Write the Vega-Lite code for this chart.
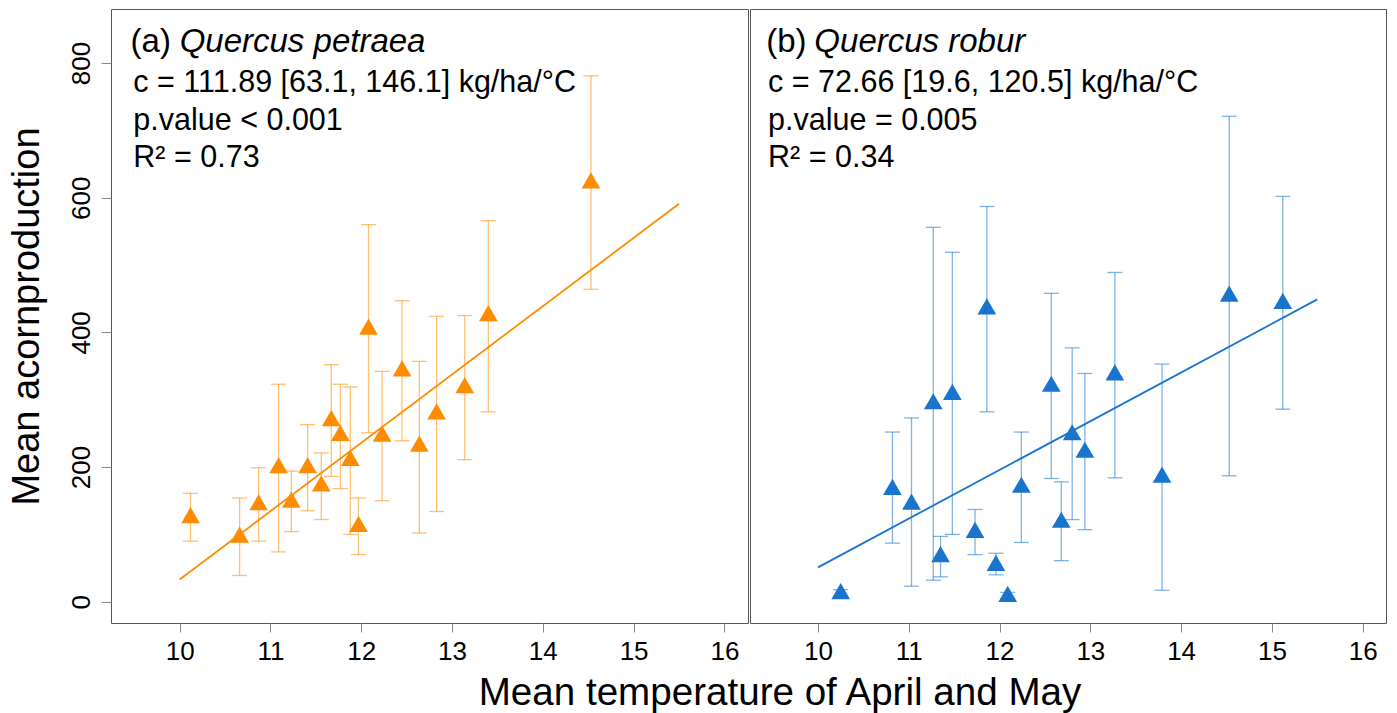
{
  "$schema": "https://vega.github.io/schema/vega-lite/v6.json",
  "background": "white",
  "padding": {"left": 7, "top": 8, "right": 12, "bottom": 4},
  "title": {"text": "Mean temperature of April and May", "orient": "bottom", "anchor": "middle", "fontSize": 38.6, "font": "Liberation Sans", "fontWeight": "normal", "color": "black", "dx": 83, "offset": 10},
  "spacing": 0,
  "datasets": {
    "petraea": [
      {"temp": 10.12, "acorn": 125, "lower": 90, "upper": 161},
      {"temp": 10.66, "acorn": 96, "lower": 39, "upper": 154},
      {"temp": 10.87, "acorn": 144, "lower": 90, "upper": 199},
      {"temp": 11.09, "acorn": 199, "lower": 74, "upper": 323},
      {"temp": 11.23, "acorn": 148, "lower": 104, "upper": 194},
      {"temp": 11.41, "acorn": 199, "lower": 135, "upper": 263},
      {"temp": 11.56, "acorn": 172, "lower": 122, "upper": 221},
      {"temp": 11.67, "acorn": 269, "lower": 186, "upper": 352},
      {"temp": 11.77, "acorn": 247, "lower": 168, "upper": 323},
      {"temp": 11.88, "acorn": 210, "lower": 100, "upper": 319},
      {"temp": 11.97, "acorn": 112, "lower": 70, "upper": 154},
      {"temp": 12.08, "acorn": 405, "lower": 251, "upper": 560},
      {"temp": 12.23, "acorn": 246, "lower": 150, "upper": 342},
      {"temp": 12.45, "acorn": 343, "lower": 239, "upper": 447},
      {"temp": 12.64, "acorn": 231, "lower": 102, "upper": 357},
      {"temp": 12.83, "acorn": 279, "lower": 134, "upper": 424},
      {"temp": 13.14, "acorn": 318, "lower": 211, "upper": 425},
      {"temp": 13.40, "acorn": 425, "lower": 282, "upper": 566},
      {"temp": 14.53, "acorn": 622, "lower": 464, "upper": 781}
    ],
    "robur": [
      {"temp": 10.25, "acorn": 12, "lower": 8, "upper": 18},
      {"temp": 10.82, "acorn": 167, "lower": 87, "upper": 252},
      {"temp": 11.03, "acorn": 145, "lower": 23, "upper": 273},
      {"temp": 11.27, "acorn": 294, "lower": 32, "upper": 556},
      {"temp": 11.35, "acorn": 67, "lower": 37, "upper": 97},
      {"temp": 11.48, "acorn": 308, "lower": 100, "upper": 519},
      {"temp": 11.73, "acorn": 103, "lower": 70, "upper": 137},
      {"temp": 11.86, "acorn": 435, "lower": 282, "upper": 587},
      {"temp": 11.96, "acorn": 54, "lower": 40, "upper": 72},
      {"temp": 12.09, "acorn": 8, "lower": 5, "upper": 14},
      {"temp": 12.24, "acorn": 170, "lower": 88, "upper": 252},
      {"temp": 12.57, "acorn": 320, "lower": 183, "upper": 458},
      {"temp": 12.68, "acorn": 118, "lower": 61, "upper": 178},
      {"temp": 12.80, "acorn": 248, "lower": 122, "upper": 377},
      {"temp": 12.94, "acorn": 222, "lower": 107, "upper": 339},
      {"temp": 13.27, "acorn": 337, "lower": 184, "upper": 489},
      {"temp": 13.79, "acorn": 185, "lower": 17, "upper": 353},
      {"temp": 14.53, "acorn": 454, "lower": 187, "upper": 721},
      {"temp": 15.12, "acorn": 443, "lower": 286, "upper": 602}
    ],
    "fitA": [{"temp": 10.0, "fit": 33}, {"temp": 15.5, "fit": 591}],
    "fitB": [{"temp": 10.0, "fit": 51}, {"temp": 15.5, "fit": 449}]
  },
  "hconcat": [
    {
      "width": 637,
      "height": 614,
      "layer": [
        {
          "data": {"name": "petraea"},
          "mark": {"type": "rule", "color": "#FF8C00", "opacity": 0.55, "strokeWidth": 1.3},
          "encoding": {
            "x": {"field": "temp", "type": "quantitative", "scale": {"domain": [9.244, 16.26], "nice": false, "zero": false},
              "axis": {"values": [10, 11, 12, 13, 14, 15, 16], "format": "d", "title": null, "domain": false, "grid": false, "tickSize": 9, "tickColor": "#888888", "labelFontSize": 26, "labelFont": "Liberation Sans", "labelColor": "black", "labelPadding": 6, "labelFlush": false}},
            "y": {"field": "lower", "type": "quantitative", "scale": {"domain": [-31.6, 880.3], "nice": false, "zero": false},
              "axis": {"values": [0, 200, 400, 600, 800], "format": "d", "title": "Mean acornproduction", "domain": false, "grid": false, "tickSize": 10, "tickColor": "#888888", "labelFontSize": 26, "labelFont": "Liberation Sans", "labelColor": "black", "labelAngle": -90, "labelAlign": "center", "labelBaseline": "alphabetic", "labelPadding": 12, "labelFlush": false, "titleFontSize": 38, "titleFont": "Liberation Sans", "titleFontWeight": "normal", "titleColor": "black", "titlePadding": 22}},
            "y2": {"field": "upper"}
          }
        },
        {
          "data": {"name": "petraea"},
          "mark": {"type": "tick", "orient": "horizontal", "size": 15, "thickness": 1.3, "color": "#FF8C00", "opacity": 0.55},
          "encoding": {"x": {"field": "temp", "type": "quantitative"}, "y": {"field": "lower", "type": "quantitative"}}
        },
        {
          "data": {"name": "petraea"},
          "mark": {"type": "tick", "orient": "horizontal", "size": 15, "thickness": 1.3, "color": "#FF8C00", "opacity": 0.55},
          "encoding": {"x": {"field": "temp", "type": "quantitative"}, "y": {"field": "upper", "type": "quantitative"}}
        },
        {
          "data": {"name": "fitA"},
          "mark": {"type": "line", "color": "#FF8C00", "strokeWidth": 1.8},
          "encoding": {"x": {"field": "temp", "type": "quantitative"}, "y": {"field": "fit", "type": "quantitative"}}
        },
        {
          "data": {"name": "petraea"},
          "mark": {"type": "point", "shape": "triangle-up", "filled": true, "size": 350, "color": "#FF8C00", "opacity": 1, "yOffset": -2.5},
          "encoding": {"x": {"field": "temp", "type": "quantitative"}, "y": {"field": "acorn", "type": "quantitative"}}
        },
        {
          "data": {"values": [{}]},
          "mark": {"type": "text", "align": "left", "baseline": "alphabetic", "fontSize": 33, "font": "Liberation Sans", "color": "black"},
          "encoding": {"x": {"datum": 9.46}, "y": {"datum": 817}, "text": {"value": "(a)"}}
        },
        {
          "data": {"values": [{}]},
          "mark": {"type": "text", "align": "left", "baseline": "alphabetic", "fontSize": 33, "font": "Liberation Sans", "fontStyle": "italic", "color": "black"},
          "encoding": {"x": {"datum": 10.0}, "y": {"datum": 817}, "text": {"value": "Quercus petraea"}}
        },
        {
          "data": {"values": [{}]},
          "mark": {"type": "text", "align": "left", "baseline": "alphabetic", "fontSize": 30.5, "font": "Liberation Sans", "color": "black"},
          "encoding": {"x": {"datum": 9.49}, "y": {"datum": 757}, "text": {"value": "c = 111.89 [63.1, 146.1] kg/ha/°C"}}
        },
        {
          "data": {"values": [{}]},
          "mark": {"type": "text", "align": "left", "baseline": "alphabetic", "fontSize": 30.5, "font": "Liberation Sans", "color": "black"},
          "encoding": {"x": {"datum": 9.49}, "y": {"datum": 701}, "text": {"value": "p.value < 0.001"}}
        },
        {
          "data": {"values": [{}]},
          "mark": {"type": "text", "align": "left", "baseline": "alphabetic", "fontSize": 30.5, "font": "Liberation Sans", "color": "black"},
          "encoding": {"x": {"datum": 9.49}, "y": {"datum": 645}, "text": {"value": "R² = 0.73"}}
        }
      ]
    },
    {
      "width": 636,
      "height": 614,
      "layer": [
        {
          "data": {"name": "robur"},
          "mark": {"type": "rule", "color": "#1874CD", "opacity": 0.55, "strokeWidth": 1.3},
          "encoding": {
            "x": {"field": "temp", "type": "quantitative", "scale": {"domain": [9.251, 16.257], "nice": false, "zero": false},
              "axis": {"values": [10, 11, 12, 13, 14, 15, 16], "format": "d", "title": null, "domain": false, "grid": false, "tickSize": 9, "tickColor": "#888888", "labelFontSize": 26, "labelFont": "Liberation Sans", "labelColor": "black", "labelPadding": 6, "labelFlush": false}},
            "y": {"field": "lower", "type": "quantitative", "scale": {"domain": [-31.6, 880.3], "nice": false, "zero": false}, "axis": null},
            "y2": {"field": "upper"}
          }
        },
        {
          "data": {"name": "robur"},
          "mark": {"type": "tick", "orient": "horizontal", "size": 15, "thickness": 1.3, "color": "#1874CD", "opacity": 0.55},
          "encoding": {"x": {"field": "temp", "type": "quantitative"}, "y": {"field": "lower", "type": "quantitative"}}
        },
        {
          "data": {"name": "robur"},
          "mark": {"type": "tick", "orient": "horizontal", "size": 15, "thickness": 1.3, "color": "#1874CD", "opacity": 0.55},
          "encoding": {"x": {"field": "temp", "type": "quantitative"}, "y": {"field": "upper", "type": "quantitative"}}
        },
        {
          "data": {"name": "fitB"},
          "mark": {"type": "line", "color": "#1874CD", "strokeWidth": 1.8},
          "encoding": {"x": {"field": "temp", "type": "quantitative"}, "y": {"field": "fit", "type": "quantitative"}}
        },
        {
          "data": {"name": "robur"},
          "mark": {"type": "point", "shape": "triangle-up", "filled": true, "size": 350, "color": "#1874CD", "opacity": 1, "yOffset": -2.5},
          "encoding": {"x": {"field": "temp", "type": "quantitative"}, "y": {"field": "acorn", "type": "quantitative"}}
        },
        {
          "data": {"values": [{}]},
          "mark": {"type": "text", "align": "left", "baseline": "alphabetic", "fontSize": 33, "font": "Liberation Sans", "color": "black"},
          "encoding": {"x": {"datum": 9.43}, "y": {"datum": 817}, "text": {"value": "(b)"}}
        },
        {
          "data": {"values": [{}]},
          "mark": {"type": "text", "align": "left", "baseline": "alphabetic", "fontSize": 33, "font": "Liberation Sans", "fontStyle": "italic", "color": "black"},
          "encoding": {"x": {"datum": 9.96}, "y": {"datum": 817}, "text": {"value": "Quercus robur"}}
        },
        {
          "data": {"values": [{}]},
          "mark": {"type": "text", "align": "left", "baseline": "alphabetic", "fontSize": 30.5, "font": "Liberation Sans", "color": "black"},
          "encoding": {"x": {"datum": 9.45}, "y": {"datum": 757}, "text": {"value": "c = 72.66 [19.6, 120.5] kg/ha/°C"}}
        },
        {
          "data": {"values": [{}]},
          "mark": {"type": "text", "align": "left", "baseline": "alphabetic", "fontSize": 30.5, "font": "Liberation Sans", "color": "black"},
          "encoding": {"x": {"datum": 9.45}, "y": {"datum": 701}, "text": {"value": "p.value = 0.005"}}
        },
        {
          "data": {"values": [{}]},
          "mark": {"type": "text", "align": "left", "baseline": "alphabetic", "fontSize": 30.5, "font": "Liberation Sans", "color": "black"},
          "encoding": {"x": {"datum": 9.45}, "y": {"datum": 645}, "text": {"value": "R² = 0.34"}}
        }
      ]
    }
  ],
  "config": {
    "view": {"stroke": "#555555", "strokeWidth": 1},
    "font": "Liberation Sans"
  }
}
